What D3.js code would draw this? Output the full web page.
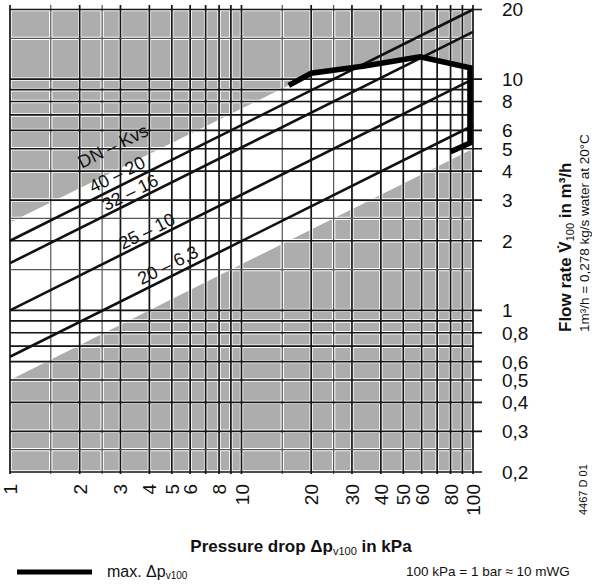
<!DOCTYPE html>
<html>
<head>
<meta charset="utf-8">
<style>
  body { margin: 0; background: #fff; }
  svg { display: block; }
  text { font-family: 'Liberation Sans', Arial, Helvetica, sans-serif; fill: #111; }
  .tick { font-size: 19px; }
  .curveLabel { font-size: 18px; }
  .title { font-size: 17px; font-weight: bold; }
</style>
</head>
<body>
<div id="chart"></div>
<script src="https://d3js.org/d3.v7.min.js"></script>
<script>

// grid values (kPa and m3/h)
const xGrid = [1, 1.5, 2, 2.5, 3, 4, 5, 6, 7, 8, 9, 10, 15, 20, 25, 30, 40, 50, 60, 70, 80, 90, 100];
const yGrid = [0.2, 0.25, 0.3, 0.4, 0.5, 0.6, 0.7, 0.8, 0.9, 1, 1.5, 2, 2.5, 3, 4, 5, 6, 7, 8, 9, 10, 15, 20];
const xTicks = [1, 2, 3, 4, 5, 6, 8, 10, 20, 30, 40, 50, 60, 80, 100];
const xTickLabels = ["1", "2", "3", "4", "5", "6", "8", "10", "20", "30", "40", "50", "60", "80", "100"];
const yTicks = [0.2, 0.3, 0.4, 0.5, 0.6, 0.8, 1, 2, 3, 4, 5, 6, 8, 10, 20];
const yTickLabels = ["0,2", "0,3", "0,4", "0,5", "0,6", "0,8", "1", "2", "3", "4", "5", "6", "8", "10", "20"];

// valve lines: flow at 1 kPa and at 100 kPa
const valveNames = ["40 – 20", "32 – 16", "25 – 10", "20 – 6,3"];
const flowAt1 = [2, 1.6, 1, 0.63];
const flowAt100 = [20, 16, 10, 6.3];

// max. dp line
const maxDp = [16, 20, 34, 59, 97, 97, 80];
const maxQ = [9.4, 10.6, 11.4, 12.5, 11.2, 5.3, 4.85];

// white working band edges
const bandLowDp = [1, 100], bandLowQ = [0.5, 5];
const bandHighDp = [1, 16], bandHighQ = [2.4, 9.4];

const W = 592, H = 585;
const svg = d3.select("#chart").append("svg").attr("width", W).attr("height", H);

const x = d3.scaleLog().domain([1, 100]).range([10, 473]);
const y = d3.scaleLog().domain([0.2, 20]).range([472, 9.5]);

// grey background
svg.append("rect")
  .attr("x", x(1)).attr("y", y(20))
  .attr("width", x(100) - x(1)).attr("height", y(0.2) - y(20))
  .attr("fill", "#adadad");

// white band
let band = [];
bandLowDp.forEach((d, i) => band.push([d, bandLowQ[i]]));
band.push([100, maxQ[4]]);
for (let i = 4; i >= 0; i--) band.push([maxDp[i], maxQ[i]]);
for (let i = bandHighDp.length - 1; i >= 0; i--) band.push([bandHighDp[i], bandHighQ[i]]);

svg.append("path")
  .attr("d", d3.line().x(d => x(d[0])).y(d => y(d[1]))(band) + "Z")
  .attr("fill", "#fff");

const half = v => [1.5, 2.5, 15, 25, 0.25].includes(v);

// gridlines, white halo first
const grid = svg.append("g");
[["#fff", 3.4, false], ["#151515", 1.7, true]].forEach(([col, w, real]) => {
  grid.selectAll(null).data(xGrid).join("line")
    .attr("x1", d => x(d)).attr("x2", d => x(d))
    .attr("y1", 5).attr("y2", y(0.2) + 2)
    .attr("stroke", d => real && half(d) ? "#555" : col)
    .attr("stroke-width", d => real && half(d) ? 1.2 : w);
  grid.selectAll(null).data(yGrid).join("line")
    .attr("x1", x(1)).attr("x2", d => yTicks.includes(d) ? 482 : x(100))
    .attr("y1", d => y(d)).attr("y2", d => y(d))
    .attr("stroke", d => real && half(d) ? "#555" : col)
    .attr("stroke-width", d => real && half(d) ? 1.2 : w);
});

// valve lines
svg.selectAll(".valve").data(valveNames).join("line")
  .attr("class", "valve")
  .attr("x1", x(1)).attr("y1", (d, i) => y(flowAt1[i]))
  .attr("x2", x(100)).attr("y2", (d, i) => y(flowAt100[i]))
  .attr("stroke", "#111").attr("stroke-width", 2.6);

// max dp
svg.append("path")
  .datum(maxDp.map((d, i) => [d, maxQ[i]]))
  .attr("d", d3.line().x(d => x(d[0])).y(d => y(d[1])))
  .attr("fill", "none").attr("stroke", "#000")
  .attr("stroke-width", 5.5).attr("stroke-linejoin", "miter");

// labels on lines
const angle = Math.atan2(y(flowAt100[0]) - y(flowAt1[0]), x(100) - x(1)) * 180 / Math.PI;
const labelDp = [2.9, 3.3, 3.9, 4.8];
const labelOff = [13, 11, 11, 13];
valveNames.forEach((name, i) => {
  const k = Math.log(labelDp[i]) / Math.log(100);
  const q = Math.exp(Math.log(flowAt1[i]) + k * (Math.log(flowAt100[i]) - Math.log(flowAt1[i])));
  svg.append("text")
    .attr("class", "curveLabel")
    .attr("transform", `translate(${x(labelDp[i])},${y(q) - labelOff[i]}) rotate(${angle})`)
    .attr("text-anchor", "middle").attr("dy", "0.35em")
    .text(name);
});
svg.append("text")
  .attr("class", "curveLabel")
  .attr("transform", `translate(113,146) rotate(${angle})`)
  .attr("text-anchor", "middle").attr("dy", "0.35em")
  .text("DN – Kvs");

// tick labels
svg.selectAll(".ytick").data(yTicks).join("text")
  .attr("class", "tick")
  .attr("x", 502).attr("y", d => y(d)).attr("dy", "0.36em")
  .text((d, i) => yTickLabels[i]);

svg.selectAll(".xtick").data(xTicks).join("text")
  .attr("class", "tick")
  .attr("transform", d => `translate(${x(d) + 7},484) rotate(-90)`)
  .attr("text-anchor", "end")
  .text((d, i) => xTickLabels[i]);

// axis titles
const xt = svg.append("text").attr("class", "title")
  .attr("x", 301).attr("y", 552).attr("text-anchor", "middle");
xt.append("tspan").text("Pressure drop Δp");
xt.append("tspan").attr("font-size", 11).attr("font-weight", "normal").attr("dy", 3).text("v100");
xt.append("tspan").attr("dy", -3).text(" in kPa");

const yt = svg.append("text").attr("class", "title")
  .attr("transform", "translate(571,332) rotate(-90)");
yt.append("tspan").text("Flow rate V\u0307");
yt.append("tspan").attr("font-size", 11).attr("font-weight", "normal").attr("dy", 3).text("100");
yt.append("tspan").attr("dy", -3).text(" in m³/h");

svg.append("text")
  .attr("transform", "translate(589,332) rotate(-90)")
  .attr("font-size", 13.5)
  .text("1m³/h = 0,278 kg/s water at 20°C");

svg.append("text")
  .attr("transform", "translate(587,515) rotate(-90)")
  .attr("font-size", 11)
  .text("4467 D 01");

// legend
svg.append("line")
  .attr("x1", 17).attr("x2", 92).attr("y1", 572).attr("y2", 572)
  .attr("stroke", "#000").attr("stroke-width", 5);
const lg = svg.append("text").attr("x", 107).attr("y", 577).attr("font-size", 16);
lg.append("tspan").text("max. Δp");
lg.append("tspan").attr("font-size", 10).attr("dy", 2).text("v100");

svg.append("text")
  .attr("x", 406).attr("y", 576).attr("font-size", 13.5)
  .text("100 kPa = 1 bar ≈ 10 mWG");

</script>
</body>
</html>
